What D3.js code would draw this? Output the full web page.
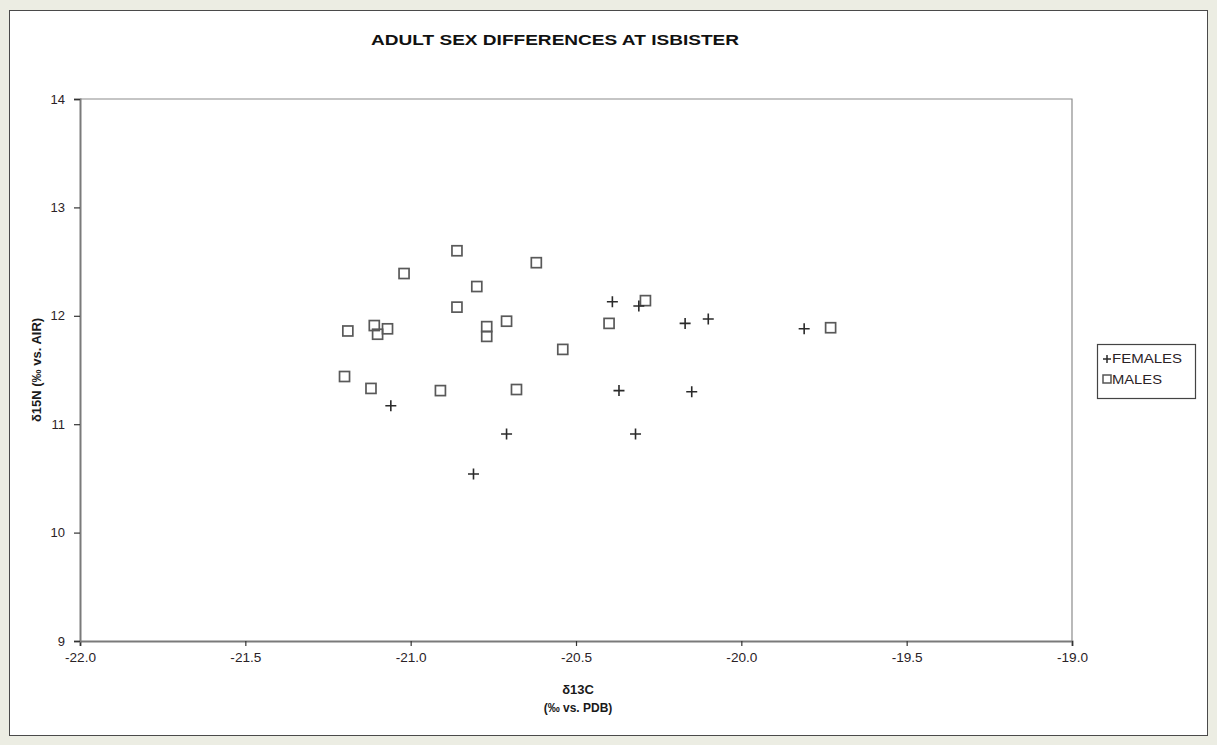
<!DOCTYPE html>
<html>
<head>
<meta charset="utf-8">
<script src="https://cdn.jsdelivr.net/npm/d3@7/dist/d3.min.js"></script>
<style>
  html, body { margin: 0; padding: 0; background: #ecede3; }
  svg { display: block; }
  text { font-family: "Liberation Sans", Arial, sans-serif; }
</style>
</head>
<body>
<svg id="chart" width="1217" height="745"></svg>
<script>
// ---- Data ----
const title = "ADULT SEX DIFFERENCES AT ISBISTER";
const xTicks = [-22.0, -21.5, -21.0, -20.5, -20.0, -19.5, -19.0];
const yTicks = [9, 10, 11, 12, 13, 14];
const seriesNames = ["FEMALES", "MALES"];

const femalesC = [-20.39, -20.31, -20.17, -20.10, -19.81, -20.37, -20.15, -21.06, -20.71, -20.32, -20.81];
const femalesN = [12.13, 12.09, 11.93, 11.97, 11.88, 11.31, 11.30, 11.17, 10.91, 10.91, 10.54];

const malesC = [-21.19, -21.11, -21.10, -21.07, -21.02, -20.86, -20.86, -20.80, -20.62, -20.77,
                -20.77, -20.71, -20.54, -20.40, -20.29, -19.73, -21.20, -21.12, -20.91, -20.68];
const malesN = [11.86, 11.91, 11.83, 11.88, 12.39, 12.60, 12.08, 12.27, 12.49, 11.90,
                11.81, 11.95, 11.69, 11.93, 12.14, 11.89, 11.44, 11.33, 11.31, 11.32];

// ---- Layout ----
const svg = d3.select("#chart");
const plot = { left: 80, right: 1072, top: 99, bottom: 641 };

// outer panel
svg.append("rect")
  .attr("x", 9.5).attr("y", 10.5).attr("width", 1198).attr("height", 725)
  .attr("fill", "#ffffff").attr("stroke", "#4a4a4a").attr("stroke-width", 1);

const x = d3.scaleLinear().domain([-22, -19]).range([plot.left, plot.right]);
const y = d3.scaleLinear().domain([9, 14]).range([plot.bottom, plot.top]);

// plot frame (top & right)
svg.append("path")
  .attr("d", `M${plot.left},${plot.top}H${plot.right}V${plot.bottom}`)
  .attr("fill", "none").attr("stroke", "#8c8c8c").attr("stroke-width", 1.2);

// axes
const fmtX = d => d3.format(".1f")(d).replace("\u2212", "-");
const xAxis = d3.axisBottom(x).tickValues(xTicks).tickFormat(fmtX).tickSize(5).tickPadding(7);
const yAxis = d3.axisLeft(y).tickValues(yTicks).tickFormat(d => String(d)).tickSize(6).tickPadding(9);

const gx = svg.append("g").attr("transform", `translate(0,${plot.bottom})`).call(xAxis);
const gy = svg.append("g").attr("transform", `translate(${plot.left},0)`).call(yAxis);

[gx, gy].forEach(g => {
  g.select(".domain").attr("stroke", "#7a7a7a").attr("stroke-width", 2);
  g.selectAll(".tick line").attr("stroke", "#333").attr("stroke-width", 1.2);
  g.selectAll(".tick text").attr("fill", "#2a2226").attr("font-size", 13)
    .attr("font-family", "'Liberation Sans', Arial, sans-serif");
});
gx.selectAll(".tick text").attr("textLength", 31).attr("lengthAdjust", "spacingAndGlyphs");

// title
svg.append("text")
  .attr("x", 555).attr("y", 45)
  .attr("text-anchor", "middle")
  .attr("font-size", 15).attr("font-weight", "bold").attr("fill", "#111")
  .attr("textLength", 368).attr("lengthAdjust", "spacingAndGlyphs")
  .text(title);

// axis titles
svg.append("text")
  .attr("transform", `translate(41,${(plot.top + plot.bottom) / 2}) rotate(-90)`)
  .attr("text-anchor", "middle")
  .attr("font-size", 13).attr("font-weight", "bold").attr("fill", "#1a1a1a")
  .text("δ15N (‰ vs. AIR)");

svg.append("text")
  .attr("x", 578).attr("y", 694)
  .attr("text-anchor", "middle")
  .attr("font-size", 13).attr("font-weight", "bold").attr("fill", "#1a1a1a")
  .text("δ13C");
svg.append("text")
  .attr("x", 578).attr("y", 712)
  .attr("text-anchor", "middle")
  .attr("font-size", 12).attr("font-weight", "bold").attr("fill", "#1a1a1a")
  .text("(‰ vs. PDB)");

// marks
const males = malesC.map((c, i) => ({ c, n: malesN[i] }));
const females = femalesC.map((c, i) => ({ c, n: femalesN[i] }));

const sq = 10;
svg.append("g").selectAll("rect").data(males).join("rect")
  .attr("x", d => x(d.c) - sq / 2).attr("y", d => y(d.n) - sq / 2)
  .attr("width", sq).attr("height", sq)
  .attr("fill", "none").attr("stroke", "#595959").attr("stroke-width", 1.7);

const cr = 5.5;
svg.append("g").selectAll("path").data(females).join("path")
  .attr("d", d => `M${x(d.c) - cr},${y(d.n)}H${x(d.c) + cr}M${x(d.c)},${y(d.n) - cr}V${y(d.n) + cr}`)
  .attr("stroke", "#2a2a2a").attr("stroke-width", 1.6).attr("fill", "none");

// legend
const lg = svg.append("g").attr("transform", "translate(1097,344)");
lg.append("rect").attr("x", 0.5).attr("y", 0.5).attr("width", 98).attr("height", 54)
  .attr("fill", "#fff").attr("stroke", "#444").attr("stroke-width", 1.2);
lg.append("path").attr("d", "M6,15H14M10,11V19").attr("stroke", "#2a2a2a").attr("stroke-width", 1.5);
lg.append("rect").attr("x", 6).attr("y", 31).attr("width", 8).attr("height", 8)
  .attr("fill", "none").attr("stroke", "#555").attr("stroke-width", 1.5);
lg.selectAll("text.lbl").data(seriesNames).join("text")
  .attr("class", "lbl")
  .attr("x", 15).attr("y", (d, i) => 19 + i * 21)
  .attr("font-size", 12).attr("fill", "#2a2226")
  .attr("textLength", (d, i) => i === 0 ? 70 : 50).attr("lengthAdjust", "spacingAndGlyphs")
  .text(d => d);
</script>
</body>
</html>
